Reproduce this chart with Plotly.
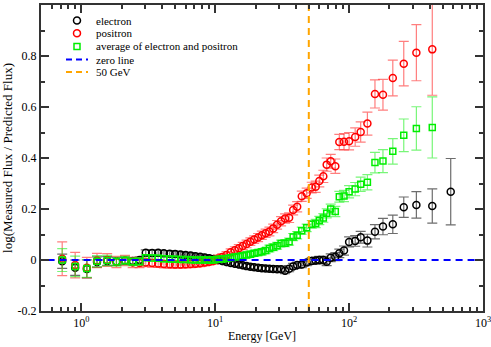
import plotly.graph_objects as go

# energias (GeV) de los bines
energy = [0.72, 0.9, 1.1, 1.31, 1.56, 1.83, 2.12, 2.42, 2.72,
          3.03, 3.38, 3.75, 4.14, 4.57, 5.02, 5.51, 6.02, 6.56, 7.13, 7.73, 8.37, 9.04, 9.74,
          10.5, 11.3, 12.15, 13.05, 14.0, 15.0, 16.05, 17.15, 18.3, 19.55, 20.9, 22.3, 23.8,
          25.4, 27.1, 29.0, 31.05, 33.25, 35.65, 38.2, 40.95,
          44.3, 48.2, 52.6, 56.3, 59.9, 64.2, 68, 72.9, 78.9, 84.5, 91.6, 100, 111, 122,
          137, 156, 179, 212, 256, 318, 418]
energy_electron = energy + [574]

electron = [-0.005, -0.03, -0.035, -0.008, -0.004, -0.006, -0.003, -0.004, 0.0,
            0.028, 0.027, 0.028, 0.026, 0.025, 0.024, 0.022, 0.02, 0.018, 0.015, 0.013, 0.01, 0.007, 0.004,
            0.0, -0.004, -0.008, -0.012, -0.015, -0.018, -0.021, -0.024, -0.026, -0.028, -0.03, -0.032, -0.033,
            -0.034, -0.035, -0.036, -0.036, -0.042, -0.034, -0.025, -0.02,
            -0.018, -0.01, -0.004, -0.002, 0.0, 0.0, -0.007, 0.009, 0.013, 0.026, 0.037, 0.071, 0.075, 0.089,
            0.076, 0.111, 0.131, 0.14, 0.207, 0.216, 0.212, 0.268]
electron_err = [0.028, 0.03, 0.035, 0.02, 0.017, 0.015, 0.014, 0.013, 0.012,
                0.012, 0.012, 0.011, 0.011, 0.011, 0.01, 0.01, 0.01, 0.01, 0.01, 0.01, 0.01, 0.01, 0.01,
                0.01, 0.01, 0.01, 0.01, 0.01, 0.01, 0.01, 0.01, 0.01, 0.01, 0.011, 0.011, 0.011,
                0.011, 0.011, 0.011, 0.012, 0.012, 0.012, 0.012, 0.012,
                0.012, 0.012, 0.013, 0.013, 0.014, 0.014, 0.015, 0.015, 0.016, 0.017, 0.018, 0.02, 0.021, 0.023,
                0.025, 0.028, 0.032, 0.036, 0.04, 0.052, 0.067, 0.13]

positron = [0.005, -0.02, -0.03, -0.002, 0.0, -0.008, -0.002, -0.01, -0.012,
            -0.01, -0.012, -0.014, -0.016, -0.017, -0.018, -0.018, -0.017, -0.016, -0.015, -0.013, -0.01, -0.007, -0.003,
            0.006, 0.012, 0.02, 0.03, 0.038, 0.046, 0.055, 0.063, 0.072, 0.08, 0.088, 0.097, 0.105,
            0.112, 0.124, 0.138, 0.152, 0.163, 0.166, 0.196, 0.209,
            0.25, 0.262, 0.284, 0.287, 0.31, 0.328, 0.374, 0.387, 0.368, 0.463, 0.464, 0.466, 0.482, 0.502,
            0.535, 0.651, 0.648, 0.714, 0.77, 0.813, 0.826]
positron_err = [0.066, 0.05, 0.04, 0.028, 0.025, 0.022, 0.02, 0.02, 0.018,
                0.016, 0.016, 0.015, 0.015, 0.015, 0.014, 0.014, 0.014, 0.014, 0.013, 0.013, 0.013, 0.013, 0.013,
                0.013, 0.013, 0.013, 0.014, 0.014, 0.014, 0.014, 0.015, 0.015, 0.015, 0.016, 0.016, 0.016,
                0.017, 0.017, 0.017, 0.018, 0.018, 0.019, 0.019, 0.02,
                0.02, 0.02, 0.021, 0.022, 0.023, 0.024, 0.026, 0.027, 0.028, 0.03, 0.032, 0.034, 0.036, 0.04,
                0.045, 0.055, 0.06, 0.07, 0.087, 0.11, 0.18]

average = [0.0, -0.025, -0.033, -0.005, -0.002, -0.007, -0.002, -0.007, -0.006,
           0.009, 0.008, 0.007, 0.005, 0.004, 0.003, 0.002, 0.002, 0.001, 0.0, 0.0, 0.0, 0.0, 0.0,
           0.003, 0.004, 0.006, 0.009, 0.012, 0.014, 0.017, 0.02, 0.023, 0.026, 0.029, 0.032, 0.037,
           0.045, 0.05, 0.056, 0.065, 0.066, 0.072, 0.09, 0.097,
           0.115, 0.126, 0.14, 0.143, 0.155, 0.165, 0.183, 0.2, 0.19, 0.248, 0.251, 0.268, 0.278, 0.297,
           0.305, 0.382, 0.388, 0.426, 0.489, 0.516, 0.52]
average_err = [0.045, 0.04, 0.035, 0.022, 0.02, 0.017, 0.016, 0.015, 0.014,
               0.012, 0.012, 0.012, 0.012, 0.011, 0.011, 0.011, 0.011, 0.011, 0.011, 0.011, 0.011, 0.011, 0.011,
               0.011, 0.011, 0.011, 0.011, 0.011, 0.011, 0.012, 0.012, 0.012, 0.012, 0.012, 0.012, 0.012,
               0.013, 0.013, 0.013, 0.013, 0.014, 0.014, 0.014, 0.014,
               0.014, 0.015, 0.015, 0.016, 0.016, 0.017, 0.018, 0.019, 0.02, 0.021, 0.022, 0.024, 0.026, 0.028,
               0.03, 0.04, 0.045, 0.05, 0.064, 0.085, 0.12]

legend_labels = ['electron', 'positron', 'average of electron and positron', 'zero line', '50 GeV']
x_ticks = [1, 10, 100, 1000]
x_tick_text = ['10<sup>0</sup>', '10<sup>1</sup>', '10<sup>2</sup>', '10<sup>3</sup>']
y_ticks = [-0.2, 0, 0.2, 0.4, 0.6, 0.8, 1.0]
y_tick_text = ['-0.2', '0', '0.2', '0.4', '0.6', '0.8', '1']

ZERO_LEVEL = 0
CUT_ENERGY = 50
X_RANGE = [0.5, 1000]
Y_RANGE = [-0.2, 1.0]

FONT = 'Liberation Serif'
W, H = 491, 347
M_L, M_R, M_T, M_B = 41, 8, 5, 36
PLOT_W = W - M_L - M_R
PLOT_H = H - M_T - M_B

DASH = '7px,5px'


def px_x(p):
    # pixel -> coordenada paper
    return (p - M_L) / PLOT_W


def px_y(p):
    return (H - M_B - p) / PLOT_H


fig = go.Figure()


def add_series(x, y, err, name, color, err_color, symbol, size):
    fig.add_trace(go.Scatter(
        x=x, y=y, name=name, mode='markers',
        marker=dict(symbol=symbol, size=size, color=color, line=dict(color=color, width=1.5)),
        error_y=dict(type='data', array=err, visible=True, color=err_color, thickness=1.2, width=5),
    ))


add_series(energy_electron, electron, electron_err, legend_labels[0], 'black', 'rgba(60,60,60,0.75)', 'circle-open', 7)
add_series(energy, positron, positron_err, legend_labels[1], 'red', 'rgba(255,40,40,0.6)', 'circle-open', 7)
add_series(energy, average, average_err, legend_labels[2], '#00ee00', 'rgba(30,240,30,0.6)', 'square-open', 6)

fig.add_trace(go.Scatter(
    x=[0.56, X_RANGE[1]], y=[ZERO_LEVEL, ZERO_LEVEL], mode='lines', name=legend_labels[3],
    line=dict(color='blue', width=2, dash=DASH),
))
fig.add_trace(go.Scatter(
    x=[CUT_ENERGY, CUT_ENERGY], y=Y_RANGE, mode='lines', name=legend_labels[4],
    line=dict(color='orange', width=2, dash=DASH),
))

# leyenda dibujada a mano (la de plotly deja demasiado espacio entre filas)
legend_rows = [20.5, 33.3, 46.5, 59.5, 72]
legend_sym_x = 77
legend_text_x = 94
sym_specs = [('circle', 'black'), ('circle', 'red'), ('rect', '#00ee00')]
for i, (kind, color) in enumerate(sym_specs):
    r = 3.5 if kind == 'circle' else 3
    fig.add_shape(type=kind, xref='paper', yref='paper', xsizemode='pixel', ysizemode='pixel',
                  xanchor=px_x(legend_sym_x), yanchor=px_y(legend_rows[i]),
                  x0=-r, x1=r, y0=-r, y1=r, line=dict(color=color, width=1.5))
for i, color in ((3, 'blue'), (4, 'orange')):
    fig.add_shape(type='line', xref='paper', yref='paper',
                  x0=px_x(66), x1=px_x(88), y0=px_y(legend_rows[i]), y1=px_y(legend_rows[i]),
                  line=dict(color=color, width=2, dash='6px,4px'))
for i, label in enumerate(legend_labels):
    fig.add_annotation(text=label, xref='paper', yref='paper', x=px_x(legend_text_x), y=px_y(legend_rows[i]),
                       xanchor='left', yanchor='middle', showarrow=False,
                       font=dict(family=FONT, size=11, color='black'))

minor_x = [v * m for m in (0.1, 1, 10, 100) for v in range(2, 10) if 0.5 <= v * m < 1000]

fig.update_layout(
    width=W, height=H,
    margin=dict(l=M_L, r=M_R, t=M_T, b=M_B),
    plot_bgcolor='white', paper_bgcolor='white',
    font=dict(family=FONT, size=12, color='black'),
    showlegend=False,
)
fig.update_xaxes(
    type='log', range=[-0.30103, 3],
    tickvals=x_ticks, ticktext=x_tick_text, ticklabeloverflow='allow',
    tickfont=dict(family=FONT, size=12, color='black'),
    ticks='inside', ticklen=8, tickwidth=1.5, tickcolor='#333',
    minor=dict(tickmode='array', tickvals=minor_x, ticks='inside', ticklen=4, tickcolor='#333', showgrid=False),
    showline=True, linecolor='#333', linewidth=2, mirror='ticks',
    showgrid=False, zeroline=False, automargin=False,
    title=dict(text='Energy [GeV]', standoff=2, font=dict(size=12)),
)
fig.update_yaxes(
    range=Y_RANGE, tickvals=y_ticks, ticktext=y_tick_text,
    tickfont=dict(family=FONT, size=12, color='black'),
    ticks='inside', ticklen=8, tickwidth=1.5, tickcolor='#333',
    minor=dict(dtick=0.1, ticks='inside', ticklen=4, tickcolor='#333', showgrid=False),
    showline=True, linecolor='#333', linewidth=2, mirror='ticks',
    showgrid=False, zeroline=False, automargin=False,
    title=dict(text='log(Measured Flux / Predicted Flux)', standoff=5, font=dict(size=13)),
)

# quitar el margen por defecto del body para que la figura quede en (0, 0)
fig.write_html('out.html', config={'displayModeBar': False},
               post_script="document.body.style.margin='0';")
